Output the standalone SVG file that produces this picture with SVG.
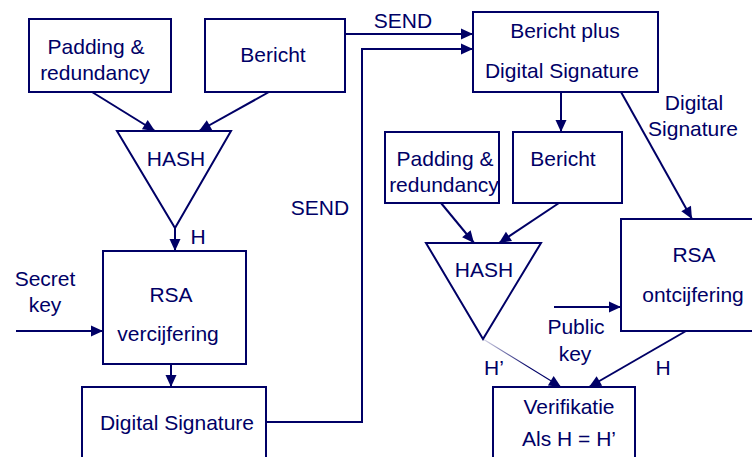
<svg xmlns="http://www.w3.org/2000/svg" width="752" height="457" viewBox="0 0 752 457">
  <style>
    .box { fill: #ffffff; stroke: #000066; stroke-width: 2; }
    .tri { fill: #ffffff; stroke: #000066; stroke-width: 2; stroke-linejoin: miter; }
    .lbl { font-family: "Liberation Sans", Arial, sans-serif; font-size: 21px; fill: #000066; text-anchor: middle; }
    .edge { fill: none; stroke: #000066; stroke-width: 2; }
    .arr { marker-end: url(#head); }
  </style>
  <defs>
    <marker id="head" markerUnits="userSpaceOnUse" markerWidth="14" markerHeight="14" viewBox="0 0 14 14" refX="13" refY="7" orient="auto">
      <path d="M1,1.5 L13,7 L1,12.5 Z" fill="#000066"/>
    </marker>
    <linearGradient id="fadeIn" gradientUnits="userSpaceOnUse" x1="483" y1="339" x2="561" y2="387">
      <stop offset="0" stop-color="#000066" stop-opacity="0.15"/>
      <stop offset="0.6" stop-color="#000066" stop-opacity="1"/>
    </linearGradient>
  </defs>

  <rect width="752" height="457" fill="#ffffff"/>

  <!-- connectors -->
  <g id="connectors">
    <line class="edge arr" x1="92" y1="92" x2="155" y2="131"/>
    <line class="edge arr" x1="269" y1="92" x2="199" y2="131"/>
    <line class="edge arr" x1="175" y1="228" x2="175" y2="251"/>
    <line class="edge arr" x1="16" y1="331" x2="103" y2="331"/>
    <line class="edge arr" x1="171" y1="364" x2="171" y2="387"/>
    <polyline class="edge arr" points="266,422 362,422 362,49 473,49"/>
    <line class="edge arr" x1="345" y1="34" x2="473" y2="34"/>
    <line class="edge arr" x1="561" y1="92" x2="561" y2="132"/>
    <line class="edge arr" x1="621" y1="92" x2="692" y2="219"/>
    <line class="edge arr" x1="441" y1="203" x2="474" y2="243"/>
    <line class="edge arr" x1="559" y1="203" x2="499" y2="243"/>
    <line class="edge arr" x1="554" y1="307" x2="621" y2="307"/>
    <line x1="483" y1="339" x2="561" y2="387" stroke="url(#fadeIn)" stroke-width="1.2" marker-end="url(#head)"/>
    <line class="edge arr" x1="686" y1="331" x2="589" y2="387"/>
  </g>

  <!-- sender side -->
  <g id="padding1">
    <rect class="box" x="29" y="19" width="142" height="73"/>
    <text class="lbl" x="96" y="54">Padding &amp;</text>
    <text class="lbl" x="95" y="80">redundancy</text>
  </g>
  <g id="bericht1">
    <rect class="box" x="205" y="19" width="140" height="73"/>
    <text class="lbl" x="273" y="62">Bericht</text>
  </g>
  <g id="hash1">
    <polygon class="tri" points="117,131 231,131 175,228"/>
    <text class="lbl" x="176" y="166">HASH</text>
  </g>
  <g id="rsa1">
    <rect class="box" x="103" y="251" width="143" height="113"/>
    <text class="lbl" x="171" y="302">RSA</text>
    <text class="lbl" x="168" y="341">vercijfering</text>
  </g>
  <g id="signature1">
    <rect class="box" x="82" y="387" width="184" height="80"/>
    <text class="lbl" x="177" y="430">Digital Signature</text>
  </g>

  <!-- receiver side -->
  <g id="bericht-plus">
    <rect class="box" x="473" y="12" width="185" height="80"/>
    <text class="lbl" x="565" y="38">Bericht plus</text>
    <text class="lbl" x="562" y="78">Digital Signature</text>
  </g>
  <g id="padding2">
    <rect class="box" x="385" y="132" width="114" height="71"/>
    <text class="lbl" x="445" y="166">Padding &amp;</text>
    <text class="lbl" x="444" y="192">redundancy</text>
  </g>
  <g id="bericht2">
    <rect class="box" x="513" y="132" width="109" height="71"/>
    <text class="lbl" x="563" y="166">Bericht</text>
  </g>
  <g id="hash2">
    <polygon class="tri" points="426,243 541,243 483,339"/>
    <text class="lbl" x="484" y="277">HASH</text>
  </g>
  <g id="rsa2">
    <rect class="box" x="621" y="219" width="140" height="112"/>
    <text class="lbl" x="694" y="262">RSA</text>
    <text class="lbl" x="693" y="302">ontcijfering</text>
  </g>
  <g id="verifikatie">
    <rect class="box" x="493" y="387" width="142" height="80"/>
    <text class="lbl" x="569" y="414">Verifikatie</text>
    <text class="lbl" x="569" y="446">Als H = H’</text>
  </g>

  <!-- edge labels -->
  <g id="labels">
    <text class="lbl" x="403" y="28">SEND</text>
    <text class="lbl" x="320" y="215">SEND</text>
    <text class="lbl" x="198" y="244">H</text>
    <text class="lbl" x="45" y="286">Secret</text>
    <text class="lbl" x="45" y="312">key</text>
    <text class="lbl" x="694" y="110">Digital</text>
    <text class="lbl" x="693" y="136">Signature</text>
    <text class="lbl" x="576" y="334">Public</text>
    <text class="lbl" x="575" y="361">key</text>
    <text class="lbl" x="494" y="375">H’</text>
    <text class="lbl" x="663" y="375">H</text>
  </g>
</svg>
